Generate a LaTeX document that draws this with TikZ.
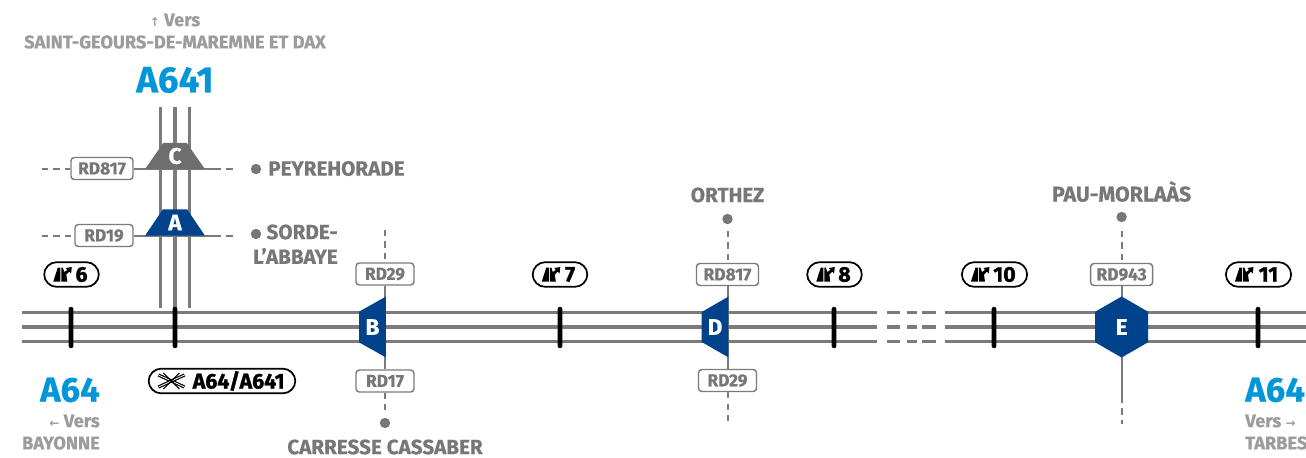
\documentclass[tikz,border=0pt]{standalone}
\usepackage{fontspec}
\setmainfont[BoldFeatures={FakeBold=0.6}]{Fira Sans}
\newfontfamily\pillfont[BoldFeatures={FakeBold=1.4}]{Fira Sans}
\newfontfamily\arrowfont{DejaVu Sans}
\usetikzlibrary{shapes.geometric,backgrounds}
\definecolor{roadgrey}{HTML}{7B7B7B}
\definecolor{textgrey}{HTML}{777777}
\definecolor{lightgrey}{HTML}{9C9C9C}
\definecolor{slategrey}{HTML}{6E6E6E}
\definecolor{aseablue}{HTML}{00438C}
\definecolor{skyblue}{HTML}{0096D7}
\tikzset{
  exiticon/.pic={
    \fill (0,7) -- (4.5,-7) -- (7,-7) -- (7,7) -- cycle;
    \fill (8,7) -- (8,-7) -- (9.5,-7) -- (11,-2.5) -- (14,-4.5) -- (12.5,-6.5) -- (18.5,-7.5) -- (17.8,-1) -- (16,-2.8) -- (13,0) -- (14,7) -- cycle;
  },
  crossicon/.pic={
    \draw[line width=.9pt,double=white,double distance=.6pt] (0,-6) -- (26,6);
    \draw[line width=.9pt,double=white,double distance=.6pt] (0,6) -- (26,-6);
    \draw[line width=.8pt] (5,-8) -- (21,8);
    \draw[line width=.8pt] (5,8) -- (21,-8);
  }
}
\begin{document}
\begin{tikzpicture}[x=.75pt,y=-.75pt,
  road/.style={roadgrey,line width=2.4pt},
  midroad/.style={roadgrey,line width=3pt},
  sideroad/.style={roadgrey,line width=1.5pt},
  sidedash/.style={sideroad,dash pattern=on 4.6pt off 4pt},
  tickmark/.style={fill=black,minimum width=3.6pt,minimum height=31pt,inner sep=0,rounded corners=1.7pt},
  pill/.style={draw=black,fill=white,line width=1.3pt,rounded corners=9.4pt,minimum height=18.5pt,inner sep=0,font=\pillfont\fontsize{16}{18}\selectfont\bfseries},
  rdbox/.style={draw=roadgrey,fill=white,line width=1.1pt,rounded corners=2.5pt,minimum height=16.5pt,inner sep=0,text=textgrey,font=\fontsize{13}{15}\selectfont\bfseries},
  town/.style={inner sep=0,text=textgrey,font=\fontsize{15.5}{17}\selectfont\bfseries},
  vers/.style={inner sep=0,text=lightgrey,font=\fontsize{13.7}{15}\selectfont\bfseries},
  motorway/.style={inner sep=0,text=skyblue,font=\fontsize{26}{28}\selectfont\bfseries},
  dot/.style={circle,fill=textgrey,minimum size=7.8pt,inner sep=0},
  junction/.style={trapezium,trapezium stretches=true,inner sep=0,text=white,font=\fontsize{17}{19}\selectfont\bfseries},
  top/.style={junction,fill=aseablue,trapezium angle=58,minimum width=45pt,minimum height=19.7pt},
  side/.style={junction,fill=aseablue,shape border rotate=90,trapezium angle=61,minimum width=45.7pt,minimum height=20.2pt},
  hexa/.style={regular polygon,regular polygon sides=6,shape border rotate=30,fill=aseablue,minimum size=45.8pt,inner sep=0,text=white,font=\fontsize{17}{19}\selectfont\bfseries}]
\useasboundingbox (0,0) rectangle (1306,457);
\node[vers] (versN) at (175,20) {{\arrowfont\fontsize{9}{10}\selectfont↑} Vers};
\node[vers] (saint) at (175,42) {SAINT-GEOURS-DE-MAREMNE ET DAX};
\node[motorway,font=\fontsize{27.5}{29}\selectfont\bfseries] (a641) at (175,80) {A641};
\node[top,fill=slategrey] (C) at (175,156) {\raisebox{-1.4pt}{C}};
\node[top] (A) at (175,222.5) {\raisebox{-1.6pt}{A}};
\node[rdbox,minimum width=46.5pt] (rd817c) at (102,168.5) {RD817};
\node[rdbox,minimum width=43.5pt] (rd19) at (104,235.5) {RD19};
\node[dot] (dotC) at (256,169) {};
\node[town,anchor=west] (peyre) at (268,168.5) {PEYREHORADE};
\node[dot] (dotA) at (256,234) {};
\node[town,anchor=east] (sorde) at (338,232) {SORDE-};
\node[town,anchor=east] (abbaye) at (338,256) {L'ABBAYE};
\coordinate (cw) at (42,168.5);
\coordinate (ce) at (215,168.5);
\coordinate (cf) at (237,168.5);
\coordinate (aw) at (42,235.5);
\coordinate (ae) at (215,235.5);
\coordinate (af) at (237,235.5);
\node[side] (B) at (372.5,327) {B};
\node[side] (D) at (715,327) {D};
\node[hexa] (E) at (1121.6,327) {E};
\node[rdbox,minimum width=43.5pt] (rd29b) at (385,274) {RD29};
\node[rdbox,minimum width=43.5pt] (rd17) at (385,381) {RD17};
\node[dot] (dotB) at (385,423) {};
\node[town] (carresse) at (385,447) {CARRESSE CASSABER};
\coordinate (bn) at (385,230);
\coordinate (bs) at (385,413);
\node[town] (orthez) at (727.5,195) {ORTHEZ};
\node[dot] (dotD) at (727.5,219) {};
\node[rdbox,minimum width=46.5pt] (rd817d) at (727.5,274.5) {RD817};
\node[rdbox,minimum width=43.5pt] (rd29d) at (727.5,380.5) {RD29};
\coordinate (dn) at (727.5,231);
\coordinate (ds) at (727.5,425);
\node[town,font=\fontsize{16}{17}\selectfont\bfseries] (pau) at (1121.6,191.5) {PAU-MORLAÀS};
\node[dot] (dotE) at (1121.6,217) {};
\node[rdbox,minimum width=46.5pt] (rd943) at (1121.6,274.5) {RD943};
\coordinate (en) at (1121.6,231);
\coordinate (em) at (1121.6,397);
\coordinate (es) at (1121.6,424);
\node[tickmark] (x6) at (71,327.5) {};
\node[tickmark] (x64) at (175,327.5) {};
\node[tickmark] (x7) at (560,327.5) {};
\node[tickmark] (x8) at (834,327.5) {};
\node[tickmark] (x10) at (994,327.5) {};
\node[tickmark] (x11) at (1258,327.5) {};
\node[pill,minimum width=41pt] (s6) at (71.5,274.5) {\hspace*{15pt}6};
\node[pill,minimum width=41pt] (s7) at (560,274.5) {\hspace*{15pt}7};
\node[pill,minimum width=41pt] (s8) at (834.5,274.5) {\hspace*{15pt}8};
\node[pill,minimum width=49pt] (s10) at (994.5,274.5) {\hspace*{15pt}10};
\node[pill,minimum width=49pt] (s11) at (1258.5,274.5) {\hspace*{15pt}11};
\node[pill,minimum width=110pt] (sA) at (222,381) {\hspace*{25pt}A64/A641};
\pic at ([xshift=7.5pt]s6.west) {exiticon};
\pic at ([xshift=7.5pt]s7.west) {exiticon};
\pic at ([xshift=7.5pt]s8.west) {exiticon};
\pic at ([xshift=7.5pt]s10.west) {exiticon};
\pic at ([xshift=7.5pt]s11.west) {exiticon};
\pic at ([xshift=8pt]sA.west) {crossicon};
\node[motorway,anchor=east] (a64w) at (100,390) {A64};
\node[vers,anchor=east] (versW) at (100,421) {{\arrowfont\fontsize{9}{10}\selectfont←} Vers};
\node[vers,anchor=east] (bayonne) at (100,443) {BAYONNE};
\node[motorway,anchor=west] (a64e) at (1245,390) {A64};
\node[vers,anchor=west] (versE) at (1245,421) {Vers {\arrowfont\fontsize{9}{10}\selectfont→}};
\node[vers,anchor=west] (tarbes) at (1245,443) {TARBES};
\coordinate (w1) at (22,312.5);
\coordinate (w2) at (22,327);
\coordinate (w3) at (22,341.5);
\coordinate (g1) at (877,312.5);
\coordinate (g2) at (877,327);
\coordinate (g3) at (877,341.5);
\coordinate (d1) at (887,312.5);
\coordinate (d2) at (887,327);
\coordinate (d3) at (887,341.5);
\coordinate (f1) at (936,312.5);
\coordinate (f2) at (936,327);
\coordinate (f3) at (936,341.5);
\coordinate (h1) at (945,312.5);
\coordinate (h2) at (945,327);
\coordinate (h3) at (945,341.5);
\coordinate (e1) at (1306,312.5);
\coordinate (e2) at (1306,327);
\coordinate (e3) at (1306,341.5);
\coordinate (n1) at (160.5,107);
\coordinate (n2) at (175,107);
\coordinate (n3) at (189.5,107);
\coordinate (m1) at (160.5,308);
\coordinate (m2) at (175,308);
\coordinate (m3) at (189.5,308);
\begin{scope}[on background layer]
\draw[road] (w1) -- (g1);
\draw[midroad] (w2) -- (g2);
\draw[road] (w3) -- (g3);
\draw[road] (h1) -- (e1);
\draw[midroad] (h2) -- (e2);
\draw[road] (h3) -- (e3);
\draw[road,dash pattern=on 9.8pt off 5.2pt on 7.5pt off 3.8pt on 10.5pt] (d1) -- (f1);
\draw[midroad,dash pattern=on 9.8pt off 5.2pt on 7.5pt off 3.8pt on 10.5pt] (d2) -- (f2);
\draw[road,dash pattern=on 9.8pt off 5.2pt on 7.5pt off 3.8pt on 10.5pt] (d3) -- (f3);
\draw[road] (n1) -- (m1);
\draw[midroad] (n2) -- (m2);
\draw[road] (n3) -- (m3);
\draw[sidedash] (cw) -- (rd817c);
\draw[sideroad] (rd817c) -- (ce);
\draw[sidedash] (ce) -- (cf);
\draw[sidedash] (aw) -- (rd19);
\draw[sideroad] (rd19) -- (ae);
\draw[sidedash] (ae) -- (af);
\draw[sidedash] (bn) -- (rd29b);
\draw[sideroad] (rd29b) -- (rd17);
\draw[sidedash] (rd17) -- (bs);
\draw[sidedash] (dn) -- (rd817d);
\draw[sideroad] (rd817d) -- (rd29d);
\draw[sidedash] (rd29d) -- (ds);
\draw[sidedash] (en) -- (rd943);
\draw[sideroad] (rd943) -- (em);
\draw[sidedash] (em) -- (es);
\end{scope}
\end{tikzpicture}
\end{document}
